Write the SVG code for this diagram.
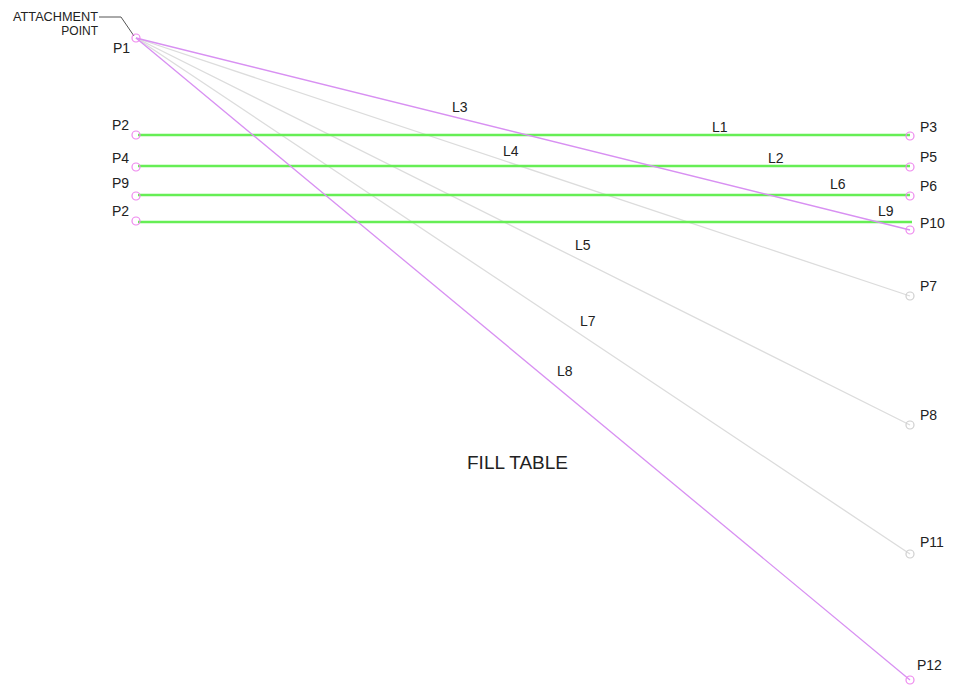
<svg xmlns="http://www.w3.org/2000/svg" width="958" height="686" viewBox="0 0 958 686">
<style>
text{font-family:"Liberation Sans",Arial,sans-serif;fill:#222}
.lb{font-size:14px}
.sm{font-size:12px}
.big{font-size:18px}
.g{stroke:#66ee55;stroke-width:2.5;fill:none}
.p{stroke:#d890f2;stroke-width:1.3;fill:none}
.gr{stroke:#dcdcdc;stroke-width:1.3;fill:none}
.cp{stroke:#ee88ee;stroke-width:1.2;fill:none}
.cg{stroke:#cfcfcf;stroke-width:1.2;fill:none}
.leader{stroke:#555;stroke-width:1;fill:none}
</style>
<rect width="958" height="686" fill="#fff"/>
<g id="connectors">
<line id="L4" class="gr" x1="136" y1="38" x2="910" y2="296"/>
<line id="L5" class="gr" x1="136" y1="38" x2="910" y2="425"/>
<line id="L7" class="gr" x1="136" y1="38" x2="910" y2="554"/>
<line id="L1" class="g" x1="138" y1="135" x2="910" y2="135"/>
<line id="L2" class="g" x1="138" y1="166" x2="910" y2="166"/>
<line id="L6" class="g" x1="138" y1="195" x2="910" y2="195"/>
<line id="L9" class="g" x1="138" y1="222" x2="912" y2="222"/>
<line id="L3" class="p" x1="136" y1="38" x2="910" y2="230"/>
<line id="L8" class="p" x1="136" y1="38" x2="910" y2="680"/>
<polyline class="leader" points="99,17 121,17 134,36"/>
</g>
<g id="connector-labels" class="lb">
<text x="452" y="112">L3</text>
<text x="712" y="132">L1</text>
<text x="503" y="156">L4</text>
<text x="768" y="163">L2</text>
<text x="830" y="189">L6</text>
<text x="878" y="216">L9</text>
<text x="575" y="250">L5</text>
<text x="580" y="326">L7</text>
<text x="557" y="376">L8</text>
</g>
<g id="attachment">
<text class="sm" x="98" y="21" text-anchor="end" textLength="85" lengthAdjust="spacingAndGlyphs">ATTACHMENT</text>
<text class="sm" x="98" y="35" text-anchor="end">POINT</text>
</g>
<g id="P1"><circle class="cp" cx="136" cy="38" r="4"/><text class="lb" x="113" y="53">P1</text></g>
<g id="P2a"><circle class="cp" cx="136" cy="135" r="4"/><text class="lb" x="112" y="130">P2</text></g>
<g id="P4"><circle class="cp" cx="136" cy="167" r="4"/><text class="lb" x="112" y="163">P4</text></g>
<g id="P9"><circle class="cp" cx="136" cy="196" r="4"/><text class="lb" x="112" y="188">P9</text></g>
<g id="P2b"><circle class="cp" cx="136" cy="221" r="4"/><text class="lb" x="112" y="216">P2</text></g>
<g id="P3"><circle class="cp" cx="910" cy="136" r="4"/><text class="lb" x="920" y="132">P3</text></g>
<g id="P5"><circle class="cp" cx="910" cy="167" r="4"/><text class="lb" x="920" y="162">P5</text></g>
<g id="P6"><circle class="cp" cx="910" cy="196" r="4"/><text class="lb" x="920" y="191">P6</text></g>
<g id="P10"><circle class="cp" cx="910" cy="230" r="4"/><text class="lb" x="920" y="228">P10</text></g>
<g id="P7"><circle class="cg" cx="910" cy="296" r="4"/><text class="lb" x="920" y="291">P7</text></g>
<g id="P8"><circle class="cg" cx="910" cy="425" r="4"/><text class="lb" x="920" y="420">P8</text></g>
<g id="P11"><circle class="cg" cx="910" cy="554" r="4"/><text class="lb" x="920" y="547">P11</text></g>
<g id="P12"><circle class="cp" cx="910" cy="680" r="4"/><text class="lb" x="917" y="670">P12</text></g>
<g id="title"><text class="big" x="467" y="469" textLength="101" lengthAdjust="spacingAndGlyphs">FILL TABLE</text></g>
</svg>
